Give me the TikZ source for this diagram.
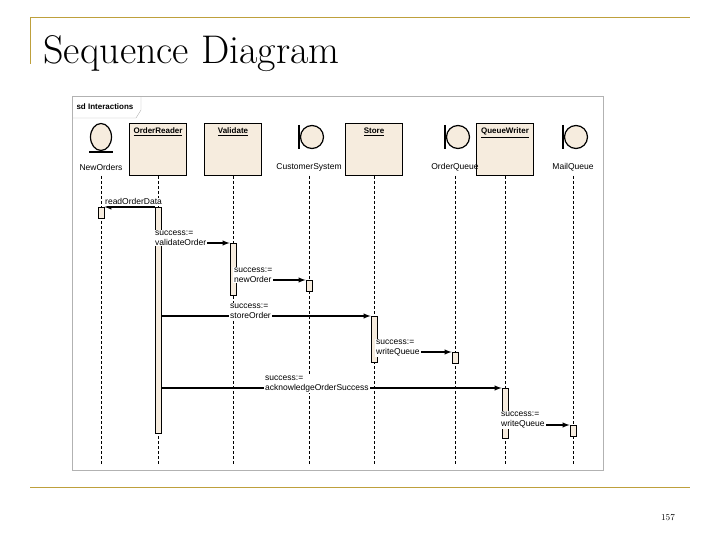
\documentclass[tikz,border=0pt]{standalone}
\usepackage{fontspec}
\newfontfamily\diagfont{Liberation Sans}
\usetikzlibrary{positioning, shapes.geometric}
\definecolor{slidegold}{RGB}{190,160,60}
\definecolor{boxfill}{RGB}{246,236,222}

\begin{document}
\begin{tikzpicture}[x = 1pt, y = -1pt, >=latex,
                    font = \diagfont\fontsize{8.5}{9.5}\selectfont,
                    object/.style = {rectangle, draw, line width = 1.4pt,
                                     fill = boxfill, minimum width = 57pt,
                                     minimum height = 52pt, anchor = north},
                    title/.style = {anchor = north, inner sep = 0pt,
                                    font = \diagfont\bfseries\fontsize{8}{9}\selectfont},
                    life/.style = {densely dashed, line width = 0.9pt},
                    act/.style = {draw, line width = 0.9pt, fill = boxfill,
                                  minimum width = 6pt, inner sep = 0pt,
                                  anchor = north},
                    msg/.style = {->, line width = 1.4pt},
                    lbl/.style = {anchor = north west, inner sep = 1pt,
                                  align = left, fill = white},
                    icon/.style = {circle, draw, line width = 1.2pt,
                                   fill = boxfill, minimum size = 23pt,
                                   inner sep = 0pt}]
\useasboundingbox (0,0) rectangle (720,540);

% slide frame
\draw[slidegold, line width = 1pt] (30,18) -- (690,18);
\draw[slidegold, line width = 1pt] (30,18) -- (30,64);
\draw[slidegold, line width = 1pt] (30,487) -- (690,487);
\node[anchor = base west, font = \fontsize{40}{42}\selectfont] (title)
     at (40,64) {Sequence Diagram};
\node[anchor = base, font = \fontsize{9}{10}\selectfont] (page) at (668,520) {157};

% sd frame
\draw[gray!60, line width = 1pt] (72,97) rectangle (603,470);
\draw[gray!60] (72,118) -- (136,118) -- (141,110) -- (141,97);
\node[anchor = west, font = \diagfont\bfseries\fontsize{8}{9}\selectfont] (sd)
     at (73,107) {sd Interactions};

% objects
\foreach \x/\n/\t in {158/reader/OrderReader, 233/valid/Validate,
                      374/store/Store, 505/writer/QueueWriter} {
  \node[object] (\n) at (\x,123) {};
  \node[title] (\n t) at (\x,128) {\underline{\t}};
}

% entity and boundaries
\node[icon, ellipse, minimum height = 27pt, minimum width = 21pt] (orders) at (101,137) {};
\draw[line width = 1.2pt] (89,152) -- (113,152);
\node (ordersl) at (101,167) {NewOrders};
\foreach \x/\n/\t in {309/cust/CustomerSystem, 455/queue/OrderQueue, 573/mail/MailQueue} {
  \node[icon] (\n) at (\x+3,137) {};
  \draw[line width = 1.2pt] (\x-10,125) -- (\x-10,149);
  \draw[line width = 1.2pt] (\x-10,137) -- (\n.west);
  \node (\n l) at (\x,167) {\t};
}

% lifelines
\foreach \x in {101,158,233,309,374,455,505,573}
  \draw[life] (\x,176) -- (\x,465);

% activations
\node[act, minimum height = 226pt] (areader) at (158,207) {};
\node[act, minimum height = 11pt]  (aorders) at (101,207) {};
\node[act, minimum height = 52pt]  (avalid)  at (233,243) {};
\node[act, minimum height = 11pt]  (acust)   at (309,280) {};
\node[act, minimum height = 46pt]  (astore)  at (374,316) {};
\node[act, minimum height = 11pt]  (aqueue)  at (455,352) {};
\node[act, minimum height = 50pt]  (awriter) at (505,388) {};
\node[act, minimum height = 11pt]  (amail)   at (573,425) {};

% messages
\draw[msg] (areader.north west) -- (aorders.north east);
\node[lbl, anchor = south west] (m1) at (104,206) {readOrderData};
\draw[msg] (areader.east |- 0,243) -- (avalid.north west);
\node[lbl] (m2) at (154,230) {success:=\\validateOrder};
\draw[msg] (avalid.east |- 0,280) -- (acust.north west);
\node[lbl] (m3) at (233,267) {success:=\\newOrder};
\draw[msg] (areader.east |- 0,316) -- (astore.north west);
\node[lbl] (m4) at (229,303) {success:=\\storeOrder};
\draw[msg] (astore.east |- 0,352) -- (aqueue.north west);
\node[lbl] (m5) at (375,339) {success:=\\writeQueue};
\draw[msg] (areader.east |- 0,388) -- (awriter.north west);
\node[lbl] (m6) at (264,375) {success:=\\acknowledgeOrderSuccess};
\draw[msg] (awriter.east |- 0,425) -- (amail.north west);
\node[lbl] (m7) at (500,411) {success:=\\writeQueue};
\end{tikzpicture}
\end{document}
